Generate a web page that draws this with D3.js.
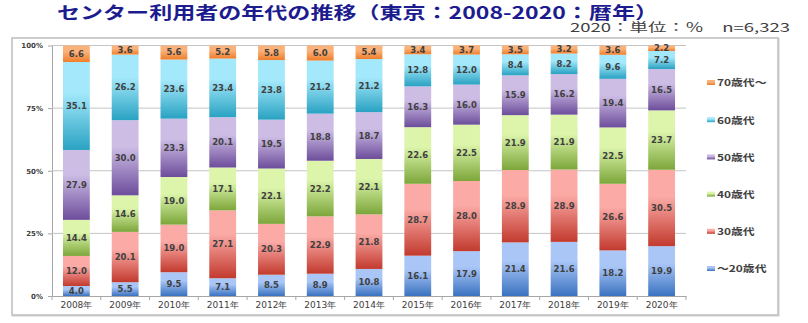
<!DOCTYPE html>
<html><head><meta charset="utf-8">
<script src="https://cdn.jsdelivr.net/npm/d3@7"></script>
<style>
html,body{margin:0;padding:0;background:#fff;}
svg{display:block;}
</style>
</head><body>
<svg id="c" width="808" height="323"></svg>
<script>
const years = ["2008年","2009年","2010年","2011年","2012年","2013年","2014年","2015年","2016年","2017年","2018年","2019年","2020年"];
const seriesNames = ["～20歳代","30歳代","40歳代","50歳代","60歳代","70歳代～"];
const age20 = [4.0,5.5,9.5,7.1,8.5,8.9,10.8,16.1,17.9,21.4,21.6,18.2,19.9];
const age30 = [12.0,20.1,19.0,27.1,20.3,22.9,21.8,28.7,28.0,28.9,28.9,26.6,30.5];
const age40 = [14.4,14.6,19.0,17.1,22.1,22.2,22.1,22.6,22.5,21.9,21.9,22.5,23.7];
const age50 = [27.9,30.0,23.3,20.1,19.5,18.8,18.7,16.3,16.0,15.9,16.2,19.4,16.5];
const age60 = [35.1,26.2,23.6,23.4,23.8,21.2,21.2,12.8,12.0,8.4,8.2,9.6,7.2];
const age70 = [6.6,3.6,5.6,5.2,5.8,6.0,5.4,3.4,3.7,3.5,3.2,3.6,2.2];
const yTicks = [0,25,50,75,100];
const titleText = "センター利用者の年代の推移（東京：2008-2020：暦年）";
const subText = "2020：単位：％　n=6,323";

const seriesValues = [age20,age30,age40,age50,age60,age70];
const gradTop = ["#a9c6f7","#fbaaa6","#dcf5ab","#cdbde5","#a3e8fb","#fbb27a"];
const gradBot = ["#3a72c0","#c23a2e","#7ca63a","#6d4d9b","#29a2c2","#ef7e2c"];

const svg = d3.select("#c");
const defs = svg.append("defs");
seriesNames.forEach((s,i)=>{
  const g = defs.append("linearGradient").attr("id","g"+i).attr("x1",0).attr("y1",0).attr("x2",0).attr("y2",1);
  g.append("stop").attr("offset","0%").attr("stop-color",gradTop[i]);
  g.append("stop").attr("offset","35%").attr("stop-color",gradTop[i]);
  g.append("stop").attr("offset","100%").attr("stop-color",gradBot[i]);
});

// title
svg.append("text").attr("x",57).attr("y",19)
  .attr("font-family","'Noto Sans CJK JP'").attr("font-weight","bold").attr("font-size",17)
  .attr("fill","#1c1c8f").attr("textLength",601).attr("lengthAdjust","spacingAndGlyphs")
  .text(titleText);
svg.append("text").attr("x",570).attr("y",32)
  .attr("font-family","'Noto Sans CJK JP'").attr("font-size",12)
  .attr("fill","#404040").attr("textLength",220).attr("lengthAdjust","spacingAndGlyphs")
  .text(subText);

// frame
svg.append("rect").attr("x",13).attr("y",39).attr("width",766).attr("height",277)
  .attr("fill","none").attr("stroke","#e6e6e6").attr("stroke-width",2);
svg.append("rect").attr("x",12).attr("y",38).attr("width",766).attr("height",277)
  .attr("fill","#fff").attr("stroke","#bdbdbd").attr("stroke-width",1.5);

const x = d3.scaleBand().domain(years).range([52,686]).paddingInner(0.45).paddingOuter(0.225);
const y = d3.scaleLinear().domain([0,100]).range([296,45.5]);

// grid
const yAxis = d3.axisLeft(y).tickValues(yTicks).tickFormat(d=>d+"%").tickSize(4).tickSizeOuter(0);
const ga = svg.append("g").attr("transform","translate(52,0)").call(yAxis);
ga.select(".domain").attr("stroke","#a6a6a6");
ga.selectAll(".tick line").attr("stroke","#a6a6a6");
ga.selectAll(".tick text").attr("font-family","'DejaVu Sans'").attr("font-weight","bold")
  .attr("font-size",7).attr("fill","#404040").attr("x",-9);
svg.append("g").selectAll("line").data(yTicks.filter(d=>d>0)).join("line")
  .attr("x1",52).attr("x2",686).attr("y1",d=>y(d)).attr("y2",d=>y(d))
  .attr("stroke","#c4c4c4").attr("stroke-width",1);

// stacked data
const table = years.map((yr,i)=>{ const o={year:yr}; seriesNames.forEach((s,j)=>o[s]=seriesValues[j][i]); return o; });
const stack = d3.stack().keys(seriesNames)(table);

const layers = svg.append("g").selectAll("g").data(stack).join("g")
  .attr("fill",(d,i)=>"url(#g"+i+")");
layers.selectAll("rect").data(d=>d).join("rect")
  .attr("x",d=>x(d.data.year)).attr("width",x.bandwidth())
  .attr("y",d=>y(d[1])).attr("height",d=>y(d[0])-y(d[1]));

// x axis
const xAxis = d3.axisBottom(x).tickSize(0).tickSizeOuter(0);
const gx = svg.append("g").attr("transform","translate(0,296)").call(xAxis);
gx.select(".domain").attr("stroke","#a6a6a6");
gx.selectAll(".tick text").attr("font-family","'DejaVu Sans'").attr("font-size",9)
  .attr("fill","#404040").attr("dy","0.95em").attr("y",3);
// boundary ticks
const bounds = years.map(d=>x(d)-x.step()*x.paddingInner()/2).concat([686]);
svg.append("g").selectAll("line").data(bounds).join("line")
  .attr("x1",d=>d).attr("x2",d=>d).attr("y1",296).attr("y2",300)
  .attr("stroke","#a6a6a6");

// value labels
layers.selectAll("text").data(d=>d).join("text")
  .attr("x",d=>x(d.data.year)+x.bandwidth()/2)
  .attr("y",d=>(y(d[0])+y(d[1]))/2).attr("dy","0.35em")
  .attr("text-anchor","middle").attr("font-family","'DejaVu Sans'").attr("font-weight","bold")
  .attr("font-size",8.5).attr("fill","#404040")
  .text(d=>d3.format(".1f")(d[1]-d[0]));

// legend
const legY = d3.scalePoint().domain(seriesNames.slice().reverse()).range([83,269]);
const lg = svg.append("g").selectAll("g").data(seriesNames).join("g")
  .attr("transform",d=>`translate(707,${legY(d)})`);
lg.append("rect").attr("x",0).attr("y",-3).attr("width",8).attr("height",5)
  .attr("fill",(d,i)=>"url(#g"+i+")");
lg.append("text").attr("transform","scale(1.25,1)").attr("x",10/1.25).attr("y",0).attr("dy","0.35em")
  .attr("font-family","'Noto Sans CJK JP'").attr("font-weight","bold").attr("font-size",9.5)
  .attr("fill","#404040").text(d=>d);
</script>
</body></html>
